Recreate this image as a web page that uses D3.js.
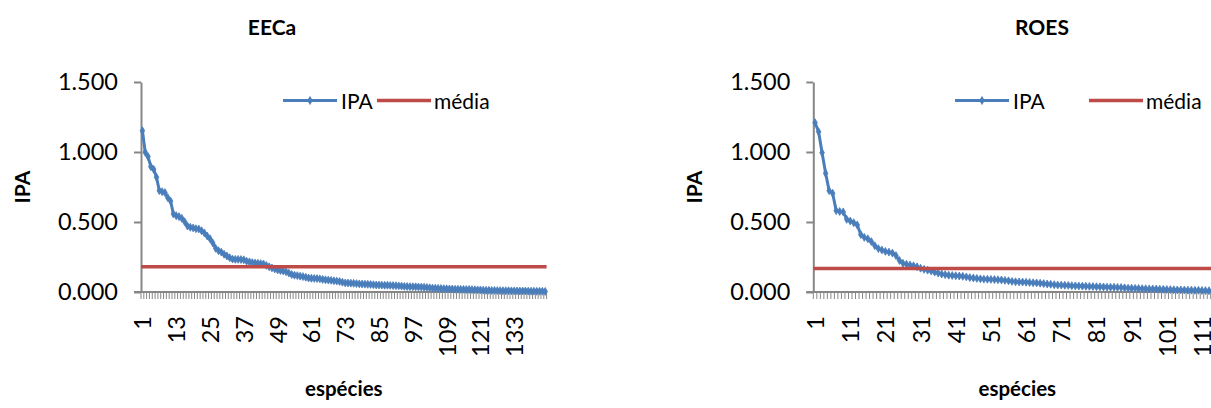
<!DOCTYPE html>
<html>
<head>
<meta charset="utf-8">
<script src="https://cdn.jsdelivr.net/npm/d3@7"></script>
<style>
  body { margin: 0; background: #fff; overflow: hidden; }
  svg { display: block; font-family: Lato, "Open Sans", sans-serif; }
</style>
</head>
<body>
<svg id="chart" width="1211" height="408"></svg>
<script>
// IPA per species, ranked from highest to lowest
const eecaIPA = [
  1.152, 0.998, 0.967, 0.895, 0.876, 0.820, 0.724, 0.716, 0.710, 0.674, 0.650,
  0.557, 0.545, 0.538, 0.526, 0.502, 0.471, 0.462, 0.458, 0.452, 0.450,
  0.438, 0.422, 0.400, 0.380, 0.350, 0.312, 0.295, 0.285, 0.270, 0.257,
  0.245, 0.235, 0.233, 0.233, 0.232, 0.230, 0.220, 0.215, 0.210, 0.207,
  0.205, 0.203, 0.200, 0.190, 0.180, 0.172, 0.165, 0.158, 0.153, 0.150,
  0.145, 0.135, 0.125, 0.120, 0.117, 0.113, 0.110, 0.105, 0.100, 0.098,
  0.097, 0.096, 0.094, 0.090, 0.087, 0.085, 0.083, 0.080, 0.078, 0.075,
  0.070, 0.065, 0.064, 0.063, 0.062, 0.060, 0.058, 0.057, 0.056, 0.055,
  0.054, 0.052, 0.050, 0.050, 0.049, 0.048, 0.048, 0.047, 0.046, 0.045,
  0.044, 0.042, 0.040, 0.039, 0.038, 0.038, 0.037, 0.036, 0.035, 0.034,
  0.032, 0.030, 0.028, 0.027, 0.026, 0.025, 0.024, 0.023, 0.022, 0.021,
  0.020, 0.020, 0.019, 0.019, 0.018, 0.018, 0.017, 0.016, 0.015, 0.014,
  0.013, 0.012, 0.012, 0.011, 0.011, 0.010, 0.010, 0.009, 0.009, 0.009,
  0.008, 0.008, 0.008, 0.007, 0.007, 0.007, 0.006, 0.006, 0.006, 0.005,
  0.005, 0.005, 0.004
];
const eecaMedia = 0.180;
const eecaTickLabels = [1, 13, 25, 37, 49, 61, 73, 85, 97, 109, 121, 133];

const roesIPA = [
  1.209, 1.145, 0.995, 0.848, 0.724, 0.705, 0.581, 0.575, 0.572, 0.519,
  0.507, 0.495, 0.479, 0.410, 0.390, 0.380, 0.360, 0.330, 0.310, 0.300,
  0.290, 0.285, 0.278, 0.260, 0.225, 0.205, 0.198, 0.193, 0.187, 0.180,
  0.170, 0.162, 0.156, 0.150, 0.142, 0.135, 0.128, 0.124, 0.120, 0.118,
  0.116, 0.114, 0.112, 0.108, 0.103, 0.100, 0.097, 0.094, 0.092, 0.091,
  0.090, 0.089, 0.087, 0.086, 0.083, 0.080, 0.076, 0.073, 0.072, 0.071,
  0.070, 0.068, 0.066, 0.065, 0.063, 0.060, 0.057, 0.055, 0.052, 0.050,
  0.049, 0.048, 0.047, 0.045, 0.044, 0.043, 0.042, 0.041, 0.040, 0.039,
  0.038, 0.037, 0.036, 0.035, 0.034, 0.034, 0.033, 0.032, 0.030, 0.028,
  0.027, 0.026, 0.025, 0.024, 0.023, 0.022, 0.022, 0.021, 0.020, 0.019,
  0.018, 0.017, 0.016, 0.015, 0.015, 0.014, 0.013, 0.013, 0.012, 0.012,
  0.011, 0.010, 0.009, 0.008, 0.007, 0.006
];
const roesMedia = 0.168;
const roesTickLabels = [1, 11, 21, 31, 41, 51, 61, 71, 81, 91, 101, 111];

const yTicks = [0, 0.5, 1.0, 1.5];
const seriesNames = ["IPA", "média"];
const xTitle = "espécies";
const yTitle = "IPA";

const BLUE = "#4A7EBB";
const RED = "#BE4B48";
const AXIS = "#868686";

const svg = d3.select("#chart");

function drawPanel(opt) {
  const g = svg.append("g");
  const cats = opt.values.map((_, i) => i + 1);
  const x = d3.scaleBand().domain(cats).range([opt.left, opt.right]);
  const y = d3.scaleLinear().domain([0, 1.5]).range([292, 82]);
  const bw = x.bandwidth();
  const cx = c => x(c) + bw / 2;

  // title
  g.append("text")
    .attr("x", opt.titleX).attr("y", 35)
    .attr("text-anchor", "middle")
    .attr("font-size", 21).attr("font-weight", "bold")
    .attr("fill", "#000")
    .text(opt.title);

  // y axis
  const yAxis = g.append("g")
    .attr("transform", `translate(${opt.left},0)`)
    .call(d3.axisLeft(y).tickValues(yTicks).tickFormat(d3.format(".3f"))
      .tickSize(7).tickSizeOuter(0).tickPadding(16));
  yAxis.select(".domain").attr("stroke", AXIS).attr("stroke-width", 2);
  yAxis.selectAll(".tick line").attr("stroke", AXIS).attr("stroke-width", 2);
  yAxis.selectAll(".tick text")
    .attr("font-size", 23.5).attr("font-family", "Lato, sans-serif").attr("fill", "#000");

  // y title
  g.append("text")
    .attr("transform", `translate(${opt.left - 120},${187}) rotate(-90)`)
    .attr("text-anchor", "middle")
    .attr("dominant-baseline", "central")
    .attr("font-size", 21).attr("font-weight", "bold")
    .text(yTitle);

  // x axis: category boundary ticks
  const bounds = cats.map(c => x(c)).concat([x.range()[1]]);
  g.append("g").selectAll("line").data(bounds).join("line")
    .attr("x1", d => d).attr("x2", d => d)
    .attr("y1", y(0)).attr("y2", y(0) + 7)
    .attr("stroke", AXIS).attr("stroke-width", 1);

  const xAxis = g.append("g")
    .attr("transform", `translate(0,${y(0)})`)
    .call(d3.axisBottom(x).tickValues(opt.ticks).tickSize(0).tickSizeOuter(0));
  xAxis.select(".domain").attr("stroke", AXIS).attr("stroke-width", 2)
    .attr("d", `M${opt.left - 7},0H${x.range()[1]}`);
  xAxis.selectAll(".tick text")
    .attr("font-size", 23.5).attr("font-family", "Lato, sans-serif").attr("fill", "#000")
    .attr("text-anchor", "end")
    .attr("dominant-baseline", "central")
    .attr("dy", null)
    .attr("y", 0)
    .attr("transform", "translate(0,24) rotate(-90)");

  // x title
  g.append("text")
    .attr("x", (opt.left + opt.right) / 2).attr("y", 396)
    .attr("text-anchor", "middle")
    .attr("font-size", 20.5).attr("font-weight", "bold")
    .text(xTitle);

  // IPA series
  const line = d3.line().x((d, i) => cx(i + 1)).y(d => y(d));
  g.append("path").datum(opt.values)
    .attr("d", line)
    .attr("fill", "none").attr("stroke", BLUE)
    .attr("stroke-width", 3).attr("stroke-linejoin", "round");
  const diamond = d3.symbol().type(d3.symbolDiamond).size(18);
  g.append("g").selectAll("path").data(opt.values).join("path")
    .attr("d", diamond)
    .attr("transform", (d, i) => `translate(${cx(i + 1)},${y(d)})`)
    .attr("fill", BLUE).attr("stroke", BLUE).attr("stroke-width", 0.8);

  // mean line
  g.append("line")
    .attr("x1", x.range()[0]).attr("x2", x.range()[1])
    .attr("y1", y(opt.mean)).attr("y2", y(opt.mean))
    .attr("stroke", RED).attr("stroke-width", 3.5);

  // legend
  const lg = g.append("g").attr("transform", `translate(${opt.legendX},100.5)`);
  lg.append("line").attr("x1", 0).attr("x2", 54).attr("stroke", BLUE).attr("stroke-width", 3);
  lg.append("path").attr("d", diamond).attr("transform", "translate(27,0)")
    .attr("fill", BLUE).attr("stroke", BLUE).attr("stroke-width", 0.8);
  lg.append("text").attr("x", 58).attr("dominant-baseline", "central")
    .attr("font-size", 21).text(seriesNames[0]);
  const e2 = opt.legendGap;
  lg.append("line").attr("x1", e2).attr("x2", e2 + 54).attr("stroke", RED).attr("stroke-width", 3.5);
  lg.append("text").attr("x", e2 + 57).attr("dominant-baseline", "central")
    .attr("font-size", 21).text(seriesNames[1]);
}

drawPanel({
  title: "EECa", titleX: 272,
  values: eecaIPA, mean: eecaMedia, ticks: eecaTickLabels,
  left: 141, right: 546.6, legendX: 283, legendGap: 94
});
drawPanel({
  title: "ROES", titleX: 1042,
  values: roesIPA, mean: roesMedia, ticks: roesTickLabels,
  left: 813.3, right: 1221.3, legendX: 955, legendGap: 134
});
</script>
</body>
</html>
